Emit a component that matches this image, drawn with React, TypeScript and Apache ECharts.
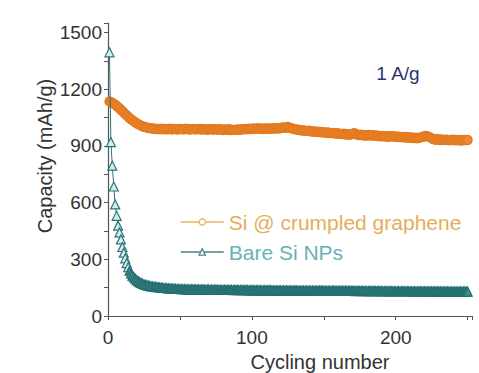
import React, { useEffect, useRef } from "react";
import * as echarts from "echarts";

const cycles: number[] = Array.from({ length: 250 }, (_, i) => i + 1);

const siGraphene: number[] = [
  1135, 1130, 1128, 1122, 1118, 1112, 1105, 1098, 1090, 1083, 1076, 1068, 1061, 1054, 1047, 1041, 1035, 1030, 1024, 1019, 1015, 1011, 1007, 1004, 1001, 999, 997, 995, 994, 993,
  992, 990, 991, 989, 990, 988, 991, 989, 987, 990, 988, 989, 991, 987, 988, 990, 989, 986, 988, 990, 989, 987, 988, 991, 989, 988, 986, 989, 990, 988,
  987, 989, 988, 990, 986, 988, 989, 987, 985, 988, 990, 987, 986, 988, 989, 985, 987, 988, 986, 984, 987, 985, 986, 988, 984, 986, 985, 983, 986, 987,
  985, 986, 988, 987, 989, 990, 988, 991, 989, 990, 992, 990, 991, 993, 990, 992, 991, 989, 992, 990, 993, 991, 990, 992, 994, 991, 993, 995, 992, 994,
  996, 998, 995, 997, 1000, 996, 994, 992, 990, 988, 987, 985, 984, 983, 981, 982, 980, 979, 978, 980, 977, 976, 975, 977, 974, 973, 975, 972, 971, 973,
  970, 969, 971, 968, 967, 969, 966, 965, 967, 964, 965, 963, 962, 964, 961, 960, 962, 959, 961, 963, 967, 964, 960, 958, 957, 959, 956, 955, 957, 954,
  958, 956, 955, 957, 954, 953, 955, 952, 951, 953, 950, 952, 949, 951, 948, 950, 952, 949, 951, 948, 947, 949, 946, 948, 945, 947, 944, 946, 943, 945,
  942, 944, 941, 943, 940, 942, 944, 946, 948, 951, 953, 950, 948, 945, 940, 936, 934, 932, 935, 933, 931, 934, 932, 930, 933, 931, 929, 932, 930, 933,
  931, 929, 932, 930, 928, 931, 929, 932, 930, 931,
];

const bareSi: number[] = [
  1395, 920, 795, 685, 590, 530, 478, 442, 405, 365, 335, 305, 280, 258, 240, 226, 214, 205, 197, 190,
  184, 179, 175, 171, 168, 165, 163, 161, 159, 157, 156, 155, 154, 153, 152, 151, 150, 149, 148, 148,
  147, 146, 146, 145, 145, 144, 144, 143, 143, 143, 142, 142, 142, 142, 141, 141, 141, 141, 141, 141,
  141, 140, 141, 140, 140, 141, 140, 139, 140, 140, 139, 140, 139, 139, 140, 139, 138, 139, 139, 138,
  139, 138, 138, 139, 138, 138, 137, 138, 138, 137, 138, 137, 138, 137, 137, 138, 137, 137, 136, 137,
  137, 136, 137, 137, 136, 137, 136, 136, 137, 136, 136, 137, 136, 136, 135, 136, 136, 135, 136, 136,
  135, 136, 135, 136, 135, 135, 136, 135, 135, 136, 135, 135, 134, 135, 135, 134, 135, 135, 134, 135,
  134, 135, 134, 134, 135, 134, 134, 135, 134, 134, 134, 133, 134, 134, 133, 134, 134, 133, 134, 133,
  133, 134, 133, 133, 134, 133, 133, 134, 133, 133, 133, 132, 133, 133, 132, 133, 133, 132, 133, 132,
  132, 133, 132, 132, 133, 132, 132, 133, 132, 132, 132, 131, 132, 132, 131, 132, 132, 131, 132, 131,
  131, 132, 131, 131, 132, 131, 131, 132, 131, 131, 131, 130, 131, 131, 130, 131, 131, 130, 131, 130,
  130, 131, 130, 130, 131, 130, 130, 131, 130, 130, 130, 129, 130, 130, 129, 130, 130, 129, 130, 129,
  129, 130, 129, 129, 130, 129, 129, 130, 129, 129,
];

const seriesNames = ["Si @ crumpled graphene", "Bare Si NPs"];
const xTickLabels = [0, 100, 200];
const yTickLabels = [0, 300, 600, 900, 1200, 1500];

const FONT = "'Liberation Sans', Arial, sans-serif";

export default function App() {
  const ref = useRef<HTMLDivElement>(null);
  useEffect(() => {
    if (!ref.current) return;
    const chart = echarts.init(ref.current, undefined, { renderer: "svg" });
    const orangeData = cycles.map((c, i) => [c, siGraphene[i]]);
    const tealData = cycles.map((c, i) =>
      i < 14
        ? { value: [c, bareSi[i]] }
        : { value: [c, bareSi[i]], itemStyle: { color: "#3f8d8e", borderColor: "#246d70" } }
    );
    chart.setOption({
      animation: false,
      backgroundColor: "#ffffff",
      grid: { left: 108, right: 7, top: 23, bottom: 57 },
      xAxis: {
        type: "value",
        min: 0,
        max: 253,
        interval: 50,
        axisLine: { onZero: false, lineStyle: { color: "#555", width: 1.2 } },
        axisTick: { show: true, length: 4, lineStyle: { color: "#555" } },
        splitLine: { show: false },
        axisLabel: {
          margin: 12,
          fontSize: 19,
          fontFamily: FONT,
          color: "#333",
          formatter: (v: number) => (xTickLabels.includes(v) ? String(v) : ""),
        },
      },
      yAxis: {
        type: "value",
        min: 0,
        max: 1550,
        interval: 150,
        axisLine: { show: true, onZero: false, lineStyle: { color: "#555", width: 1.2 } },
        axisTick: { show: true, length: 4, lineStyle: { color: "#555" } },
        splitLine: { show: false },
        axisLabel: {
          margin: 6,
          fontSize: 19,
          fontFamily: FONT,
          color: "#333",
          formatter: (v: number) => (yTickLabels.includes(v) ? String(v) : ""),
        },
      },
      legend: {
        orient: "vertical",
        left: 175,
        top: 206,
        itemWidth: 43,
        itemHeight: 8,
        itemGap: 8,
        textStyle: { fontSize: 21, fontFamily: FONT, lineHeight: 22 },
        data: [
          {
            name: seriesNames[0],
            itemStyle: { color: "#ffffff", borderColor: "#e8b060", borderWidth: 1.3 },
            lineStyle: { color: "#e8b060", width: 1.5 },
            textStyle: { color: "#e6ad5c", fontSize: 21, fontFamily: FONT },
          },
          {
            name: seriesNames[1],
            itemStyle: { color: "#ffffff", borderColor: "#4f8a8e", borderWidth: 1.3 },
            lineStyle: { color: "#4f7f86", width: 1.5 },
            textStyle: { color: "#66b2b6", fontSize: 21, fontFamily: FONT },
          },
        ],
      },
      series: [
        {
          name: seriesNames[0],
          type: "line",
          data: orangeData,
          symbol: "circle",
          symbolSize: 9,
          showAllSymbol: true,
          itemStyle: { color: "#ec8a35", borderColor: "#e37a20", borderWidth: 1.2 },
          lineStyle: { color: "#e37d22", width: 1 },
          z: 2,
        },
        {
          name: seriesNames[1],
          type: "line",
          data: tealData,
          symbol: "triangle",
          symbolSize: 9,
          showAllSymbol: true,
          itemStyle: { color: "#d6ecec", borderColor: "#2b7678", borderWidth: 1.2 },
          lineStyle: { color: "#2b7678", width: 1 },
          z: 3,
        },
      ],
      graphic: [
        {
          type: "text",
          x: 45,
          y: 156,
          rotation: Math.PI / 2,
          style: {
            text: "Capacity (mAh/g)",
            fontSize: 20,
            fontFamily: FONT,
            fill: "#333",
            textAlign: "center",
            textVerticalAlign: "middle",
          },
        },
        {
          type: "text",
          x: 320,
          y: 362,
          style: {
            text: "Cycling number",
            fontSize: 20,
            fontFamily: FONT,
            fill: "#333",
            textAlign: "center",
            textVerticalAlign: "middle",
          },
        },
        {
          type: "text",
          x: 398,
          y: 73,
          style: {
            text: "1 A/g",
            fontSize: 19,
            fontFamily: FONT,
            fill: "#2a3470",
            textAlign: "center",
            textVerticalAlign: "middle",
          },
        },
      ],
    });
    return () => chart.dispose();
  }, []);
  return <div ref={ref} style={{ width: 479, height: 373, position: "absolute", left: 0, top: 0 }} />;
}
